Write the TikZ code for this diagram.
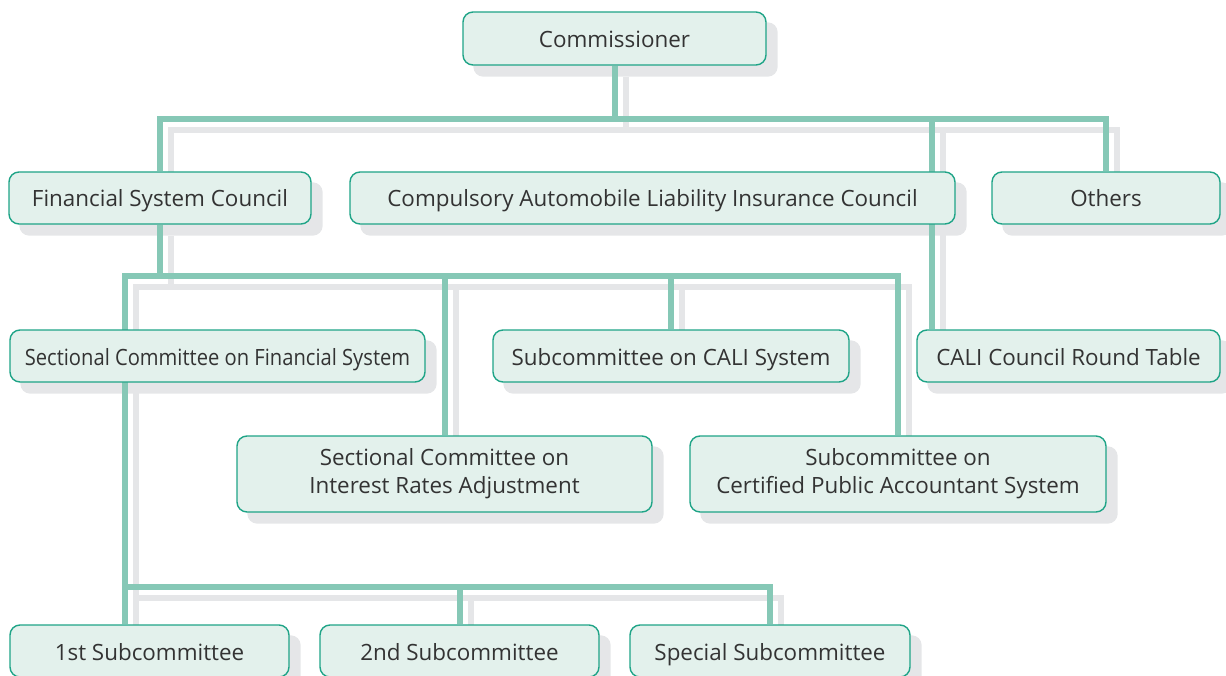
\documentclass[tikz,border=0pt]{standalone}
\usepackage{fontspec}
\setmainfont{Open Sans}
\newfontfamily\condfont{Open Sans}[FakeStretch=0.9]
\usetikzlibrary{positioning}
\definecolor{boxfill}{HTML}{E3F1EC}
\definecolor{boxedge}{HTML}{1FA487}
\definecolor{linkteal}{HTML}{86C8B6}
\definecolor{shadegray}{HTML}{E5E6E8}
\definecolor{txt}{HTML}{333333}
\pgfdeclarelayer{shad}
\pgfdeclarelayer{lines}
\pgfsetlayers{shad,lines,main}
\tikzset{
  orgbox/.style={draw=boxedge, line width=1.4pt, fill=boxfill, rounded corners=10pt,
    inner sep=0pt, text=txt, font=\fontsize{22.4}{28}\selectfont, align=center},
  oneline/.style={orgbox, text height=18pt, text depth=0pt},
  link/.style={line width=6pt, line join=miter},
}
\newcommand{\orgnet}[1]{%
  \draw[#1] (fsc.north) -- (c0) -| (others.north);
  \draw[#1] (comm.south) -- (comm.south |- c0);
  \draw[#1] (c2) -- (c2 |- rt.north);
  \draw[#1] (fsc.south) -- (fsc.south |- c1);
  \draw[#1] (c3) -- (c1) -| (cpa.north);
  \draw[#1] (irs.north) -- (irs.north |- c1);
  \draw[#1] (calisys.north) -- (calisys.north |- c1);
  \draw[#1] (first.north -| c3) -- (c3) -| (special.north);
  \draw[#1] (second.north) -- (second.north |- c3);
}
\begin{document}
\begin{tikzpicture}[x=1pt,y=-1pt]
\useasboundingbox (0,0) rectangle (1226,676);
% boxes
\node[oneline, minimum width=303pt, minimum height=53pt] (comm) at (614.5,38.5) {Commissioner};
\node[oneline, minimum width=302pt, minimum height=52pt] (fsc) at (160,198) {Financial System Council};
\node[oneline, minimum width=605pt, minimum height=52pt] (cali) at (652.5,198) {Compulsory Automobile Liability Insurance Council};
\node[oneline, minimum width=228pt, minimum height=52pt] (others) at (1106,198) {Others};
\node[oneline, minimum width=415pt, minimum height=52pt] (scfs) at (217.5,356) {\condfont Sectional Committee on Financial System};
\node[oneline, minimum width=356pt, minimum height=52pt] (calisys) at (671,356) {Subcommittee on CALI System};
\node[oneline, minimum width=303pt, minimum height=52pt] (rt) at (1068.5,356) {CALI Council Round Table};
\node[orgbox, minimum width=415pt, minimum height=76pt] (irs) at (444.5,474) {Sectional Committee on\\Interest Rates Adjustment};
\node[orgbox, minimum width=416pt, minimum height=76pt] (cpa) at (898,474) {Subcommittee on\\Certified Public Accountant System};
\node[oneline, minimum width=279pt, minimum height=52pt] (first) at (149.5,651) {1st Subcommittee};
\node[oneline, minimum width=279pt, minimum height=52pt] (second) at (459.5,651) {2nd Subcommittee};
\node[oneline, minimum width=280pt, minimum height=52pt] (special) at (770,651) {Special Subcommittee};
% junctions
\coordinate (c0) at (160,119);
\coordinate (c2) at (932,119);
\coordinate (c1) at (125,276);
\coordinate (c3) at (125,587);
% box shadows
\begin{pgfonlayer}{shad}
\foreach \n in {comm,fsc,cali,others,scfs,calisys,rt,irs,cpa,first,second,special}
  \fill[shadegray, rounded corners=10pt] ([shift={(11pt,-11pt)}]\n.north west) rectangle ([shift={(11pt,-11pt)}]\n.south east);
\end{pgfonlayer}
% connectors
\begin{pgfonlayer}{lines}
\begin{scope}[transform canvas={shift={(11pt,-11pt)}}]
\orgnet{link, shadegray}
\end{scope}
\orgnet{link, linkteal}
\end{pgfonlayer}
\end{tikzpicture}
\end{document}
